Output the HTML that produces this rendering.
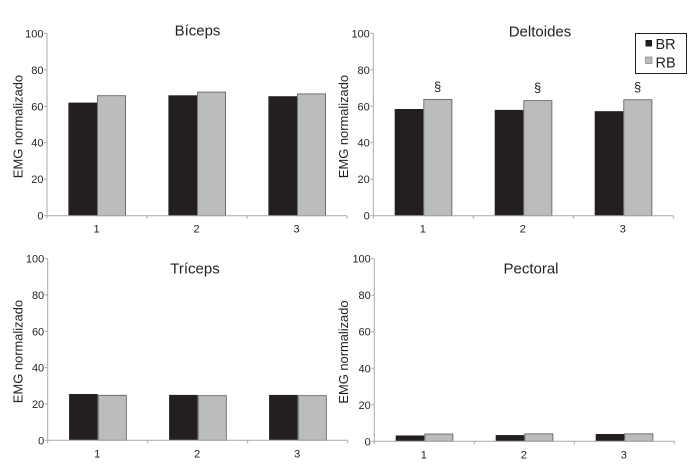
<!DOCTYPE html>
<html>
<head>
<meta charset="utf-8">
<title>EMG normalizado</title>
<style>
html,body{margin:0;padding:0;background:#fff;}
svg{display:block;filter:blur(0.3px);}
text{font-family:"Liberation Sans",sans-serif;fill:#231f20;}
</style>
</head>
<body>
<svg id="chart" xmlns="http://www.w3.org/2000/svg" width="700" height="472" viewBox="0 0 700 472">
  <rect x="0" y="0" width="700" height="472" fill="#ffffff"/>
  <g id="panels"></g>
  <g>
    <rect x="635.5" y="33.5" width="51" height="40" fill="#fff" stroke="#231f20" stroke-width="1"/>
    <rect x="645.5" y="40" width="6.5" height="6.5" fill="#231f20"/>
    <text x="655.5" y="49" font-size="14.5">BR</text>
    <rect x="645.5" y="57" width="6.5" height="6.5" fill="#bbbcbe" stroke="#77787b" stroke-width="0.6"/>
    <text x="655.5" y="67.5" font-size="14.5">RB</text>
  </g>
</svg>
<script>
const categories = ["1", "2", "3"];
const yTicks = [0, 20, 40, 60, 80, 100];
const yAxisTitle = "EMG normalizado";
const marker = "§";

const bicepsBR = [62, 66, 65.5];
const bicepsRB = [66, 68, 67];
const deltoidesBR = [58.5, 58, 57.3];
const deltoidesRB = [64, 63.3, 63.8];
const tricepsBR = [25.5, 25, 25];
const tricepsRB = [25, 24.8, 24.8];
const pectoralBR = [3.2, 3.4, 4];
const pectoralRB = [4.2, 4.3, 4.3];

const NS = "http://www.w3.org/2000/svg";
const root = document.getElementById("panels");

function make(tag, attrs, parent, content) {
  const el = document.createElementNS(NS, tag);
  for (const k in attrs) el.setAttribute(k, attrs[k]);
  if (content !== undefined) el.textContent = content;
  parent.appendChild(el);
  return el;
}

function drawPanel(cfg) {
  const g = make("g", {}, root);
  
  

  const yScale = v => cfg.y0 - (v / 100) * (cfg.y0 - cfg.y100);
  const catW = 100;
  const barW = 28.6;
  const xCenter = i => cfg.x0 + catW * (i + 0.5);
  const axisColor = "#a7a9ac";

  cfg.br.forEach((v, i) => {
    const x = xCenter(i) - barW;
    const bar = make("rect", {x: x, y: yScale(v), width: barW, height: cfg.y0 - yScale(v), fill: "#231f20"}, g);
    
    
  });
  cfg.rb.forEach((v, i) => {
    const x = xCenter(i);
    const bar = make("rect", {x: x + 0.5, y: yScale(v) + 0.4, width: barW - 0.5, height: cfg.y0 - yScale(v) - 0.4, fill: "#bbbcbe", stroke: "#58595b", "stroke-width": 0.8}, g);
    
    
    if (cfg.marked) {
      const mark = make("text", {x: x + barW / 2, y: yScale(v) - 8, "font-size": 13, "text-anchor": "middle"}, g, marker);
      
      
    }
  });

  const yAxis = make("line", {x1: cfg.x0, x2: cfg.x0, y1: cfg.y100, y2: cfg.y0, stroke: axisColor, "stroke-width": 1}, g);
  
  
  const xAxis = make("line", {x1: cfg.x0, x2: cfg.x0 + catW * categories.length, y1: cfg.y0, y2: cfg.y0, stroke: axisColor, "stroke-width": 1}, g);
  
  

  yTicks.forEach(t => {
    const tick = make("line", {x1: cfg.x0 - 3, x2: cfg.x0, y1: yScale(t), y2: yScale(t), stroke: axisColor, "stroke-width": 1}, g);
    
    
    const label = make("text", {x: cfg.x0 - 3.5, y: yScale(t) + 4, "font-size": 11, "text-anchor": "end"}, g, String(t));
    
    
  });

  for (let i = 0; i <= categories.length; i++) {
    const tick = make("line", {x1: cfg.x0 + catW * i, x2: cfg.x0 + catW * i, y1: cfg.y0, y2: cfg.y0 + 3, stroke: axisColor, "stroke-width": 1}, g);
    
    
  }
  categories.forEach((c, i) => {
    const label = make("text", {x: xCenter(i) - 0.5, y: cfg.y0 + 17, "font-size": 11, "text-anchor": "middle"}, g, c);
    
    
  });

  const title = make("text", {x: cfg.titleX, y: cfg.titleY, "font-size": 15, "text-anchor": "middle"}, g, cfg.title);
  
  

  const yMid = (cfg.y0 + cfg.y100) / 2 + 2;
  const yTitle = make("text", {x: cfg.yTitleX, y: yMid, "font-size": 12.9, "text-anchor": "middle", transform: "rotate(-90 " + cfg.yTitleX + " " + yMid + ")"}, g, yAxisTitle);
  
  
}

drawPanel({key: "biceps", title: "Bíceps", br: bicepsBR, rb: bicepsRB, x0: 47, y0: 215.7, y100: 33.3, titleX: 197.5, titleY: 35.5, yTitleX: 22.5, marked: false});
drawPanel({key: "deltoides", title: "Deltoides", br: deltoidesBR, rb: deltoidesRB, x0: 373.3, y0: 215.7, y100: 33.3, titleX: 540, titleY: 36.5, yTitleX: 348, marked: true});
drawPanel({key: "triceps", title: "Tríceps", br: tricepsBR, rb: tricepsRB, x0: 47.7, y0: 440.3, y100: 258.7, titleX: 195, titleY: 273.5, yTitleX: 22.5, marked: false});
drawPanel({key: "pectoral", title: "Pectoral", br: pectoralBR, rb: pectoralRB, x0: 374.3, y0: 441.3, y100: 258.7, titleX: 531, titleY: 273.5, yTitleX: 348, marked: false});
</script>
</body>
</html>
